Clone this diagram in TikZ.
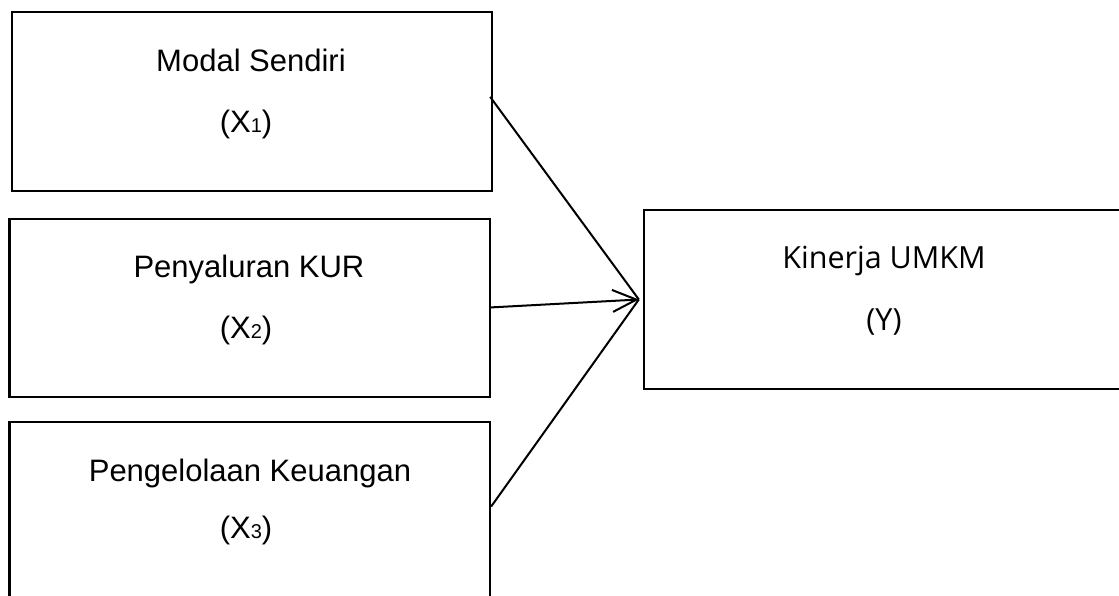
\documentclass[tikz,border=0pt]{standalone}
\usepackage{fontspec}
\setmainfont{Liberation Sans}
\newfontfamily\rightfont{Open Sans}
\usetikzlibrary{arrows.meta}
\newcommand{\subdig}[1]{{\fontsize{20}{20}\selectfont #1}}
\tikzset{
  box/.style={draw, line width=2.3pt, inner sep=0pt},
  lbl/.style={anchor=base, inner sep=0pt, font=\fontsize{31}{36}\selectfont},
  conn/.style={line width=2pt},
}
\begin{document}
\begin{tikzpicture}[x=1pt,y=-1pt]
\useasboundingbox (0,0) rectangle (1119,596);
% boxes
\node[box, minimum width=480pt, minimum height=179pt] (b1) at (252,101.5) {};
\node[box, minimum width=480.5pt, minimum height=178pt] (b2) at (249.75,307.7) {};
\node[box, minimum width=480.5pt, minimum height=180pt] (b3) at (249.75,511.7) {};
\node[box, minimum width=482pt, minimum height=179pt] (y) at (885,299.5) {};
% labels
\node[lbl] (t1a) at (251,72) {Modal Sendiri};
\node[lbl] (t1b) at (246,133) {(X\subdig{1})};
\node[lbl] (t2a) at (249,277) {Penyaluran KUR};
\node[lbl] (t2b) at (246,338) {(X\subdig{2})};
\node[lbl] (t3a) at (250,481) {Pengelolaan Keuangan};
\node[lbl] (t3b) at (246,538) {(X\subdig{3})};
\node[lbl, font=\rightfont\fontsize{30.5}{36}\selectfont] (tya) at (884,269) {Kinerja UMKM};
\node[lbl, font=\rightfont\fontsize{30.5}{36}\selectfont] (tyb) at (884,330) {(Y)};
% connectors
\coordinate (tip) at ([xshift=-4pt]y.west);
\draw[conn] ([xshift=-3pt,yshift=-86pt]b1.north east) -- (tip);
\draw[conn, -{Straight Barb[length=24pt,width=22pt,line width=2pt]}] ([yshift=0.3pt]b2.east) -- (tip);
\draw[conn] ([yshift=-86pt]b3.north east) -- (tip);
\end{tikzpicture}
\end{document}
